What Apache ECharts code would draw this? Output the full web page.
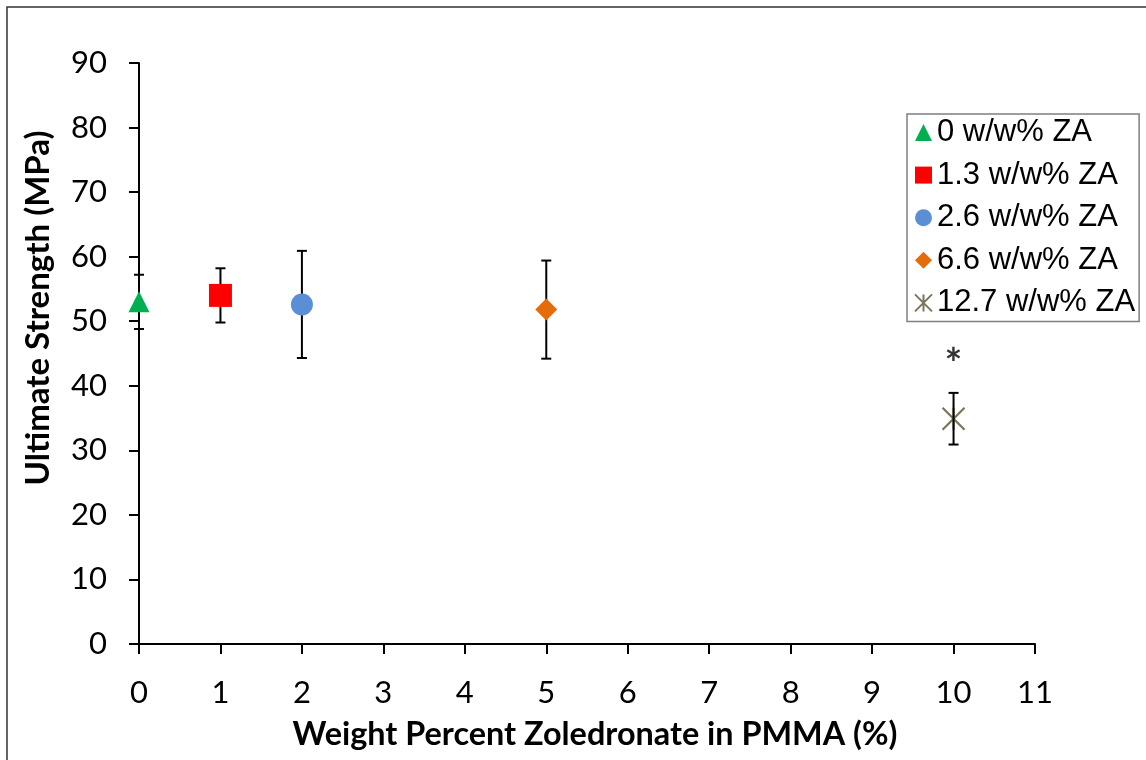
<!DOCTYPE html>
<html>
<head>
<meta charset="utf-8">
<script src="https://cdn.jsdelivr.net/npm/echarts@6/dist/echarts.min.js"></script>
<style>
  html, body { margin: 0; padding: 0; background: #fff; }
  #chart { width: 1146px; height: 760px; }
</style>
</head>
<body>
<div id="chart"></div>
<script>
// Ultimate strength of PMMA cement vs zoledronate loading (mean ± SD)
const groupNames = ['0 w/w% ZA', '1.3 w/w% ZA', '2.6 w/w% ZA', '6.6 w/w% ZA', '12.7 w/w% ZA'];
const weightPercent = [0, 1, 2, 5, 10];
const strengthMean = [53.0, 54.0, 52.6, 51.8, 34.9];
const strengthSD = [4.2, 4.2, 8.3, 7.6, 4.0];
const significance = ['', '', '', '', '*'];

const colors = ['#00b050', '#ff0000', '#5b8fd5', '#e46c0a', '#5a5233'];
const symbols = [
  'triangle',
  'rect',
  'circle',
  'diamond',
  'path://M0,0L20,20M20,0L0,20M10,0L10,20'
];
const symbolSizes = [21, 23, 22, 22, 22];

const tickFont = 'Lato, "Open Sans", sans-serif';

const pointSeries = groupNames.map((name, i) => {
  const isStar = i === 4;
  return {
    name: name,
    type: 'scatter',
    z: isStar ? 2 : 4,
    symbol: symbols[i],
    symbolSize: symbolSizes[i],
    itemStyle: isStar
      ? { color: 'rgba(0,0,0,0)', borderColor: colors[i], borderWidth: 2.2 }
      : { color: colors[i], opacity: 1 },
    label: {
      show: significance[i] !== '',
      position: 'top',
      distance: 20,
      formatter: () => significance[i],
      color: '#000',
      fontFamily: tickFont,
      fontWeight: 'bold',
      fontSize: 42
    },
    emphasis: { disabled: true },
    data: [[weightPercent[i], strengthMean[i]]]
  };
});

const errorBarSeries = {
  type: 'custom',
  name: 'sd',
  z: 3,
  silent: true,
  data: weightPercent.map((x, i) => [x, strengthMean[i] - strengthSD[i], strengthMean[i] + strengthSD[i]]),
  renderItem: function (params, api) {
    const x = api.value(0);
    const lo = api.coord([x, api.value(1)]);
    const hi = api.coord([x, api.value(2)]);
    const cap = 5;
    const style = { stroke: '#000', lineWidth: 2 };
    return {
      type: 'group',
      children: [
        { type: 'line', shape: { x1: lo[0], y1: lo[1], x2: hi[0], y2: hi[1] }, style: style },
        { type: 'line', shape: { x1: hi[0] - cap, y1: hi[1], x2: hi[0] + cap, y2: hi[1] }, style: style },
        { type: 'line', shape: { x1: lo[0] - cap, y1: lo[1], x2: lo[0] + cap, y2: lo[1] }, style: style }
      ]
    };
  }
};

const chart = echarts.init(document.getElementById('chart'), null, { renderer: 'canvas' });

chart.setOption({
  animation: false,
  backgroundColor: '#fff',
  grid: { left: 139, top: 63, right: 111, bottom: 116, containLabel: false },
  xAxis: {
    type: 'value',
    min: 0, max: 11, interval: 1,
    splitLine: { show: false },
    axisLine: { show: true, onZero: false, lineStyle: { color: '#000', width: 2 } },
    axisTick: { show: true, inside: false, length: 10, lineStyle: { color: '#000', width: 2 } },
    axisLabel: { margin: 33, color: '#000', fontFamily: tickFont, fontSize: 31 }
  },
  yAxis: {
    type: 'value',
    min: 0, max: 90, interval: 10,
    splitLine: { show: false },
    axisLine: { show: true, onZero: false, lineStyle: { color: '#000', width: 2 } },
    axisTick: { show: true, inside: false, length: 10, lineStyle: { color: '#000', width: 2 } },
    axisLabel: { margin: 32, color: '#000', fontFamily: tickFont, fontSize: 31 }
  },
  legend: {
    orient: 'vertical',
    left: 907,
    top: 114,
    padding: [3, 4, 3, 7],
    itemGap: 11.6,
    itemWidth: 17,
    itemHeight: 17,
    borderColor: '#7f7f7f',
    borderWidth: 1.5,
    backgroundColor: '#fff',
    selectedMode: false,
    data: groupNames,
    textStyle: { fontFamily: '"Liberation Sans", Arial, sans-serif', fontSize: 31, color: '#000' }
  },
  graphic: [
    {
      type: 'rect',
      silent: true,
      z: -10,
      shape: { x: 7, y: 7, width: 1300, height: 900 },
      style: { fill: 'none', stroke: '#333', lineWidth: 1.5 }
    },
    {
      type: 'text',
      silent: true,
      x: 595, y: 735,
      style: {
        text: 'Weight Percent Zoledronate in PMMA (%)',
        fontFamily: tickFont, fontWeight: 'bold', fontSize: 32.4,
        fill: '#000', align: 'center', verticalAlign: 'middle'
      }
    },
    {
      type: 'text',
      silent: true,
      x: 38, y: 308,
      rotation: Math.PI / 2,
      style: {
        text: 'Ultimate Strength (MPa)',
        fontFamily: tickFont, fontWeight: 'bold', fontSize: 33,
        fill: '#000', align: 'center', verticalAlign: 'middle'
      }
    }
  ],
  series: pointSeries.concat([errorBarSeries])
});
</script>
</body>
</html>
